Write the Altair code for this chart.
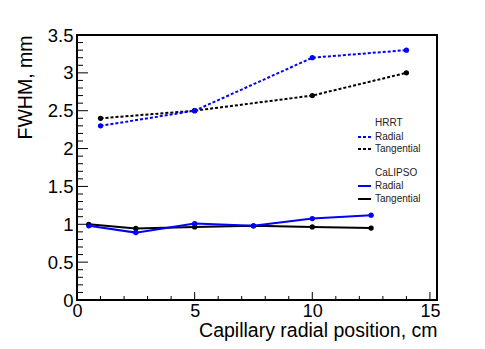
import altair as alt
import pandas as pd

# Data
hrrt_x = [1, 5, 10, 14]
hrrt_radial = [2.30, 2.50, 3.20, 3.30]
hrrt_tangential = [2.40, 2.50, 2.70, 3.00]

cal_x = [0.5, 2.5, 5, 7.5, 10, 12.5]
cal_radial = [0.98, 0.89, 1.01, 0.98, 1.075, 1.12]
cal_tangential = [1.00, 0.945, 0.965, 0.98, 0.965, 0.95]

y_major = [0, 0.5, 1, 1.5, 2, 2.5, 3, 3.5]
x_major = [0, 5, 10, 15]

rows = []
for xs, ys, name in [
    (hrrt_x, hrrt_tangential, "HRRT Tangential"),
    (hrrt_x, hrrt_radial, "HRRT Radial"),
    (cal_x, cal_tangential, "CaLIPSO Tangential"),
    (cal_x, cal_radial, "CaLIPSO Radial"),
]:
    for xv, yv in zip(xs, ys):
        rows.append({"series": name, "x": xv, "y": yv})
df = pd.DataFrame(rows)

W, H = 360, 265
xscale = alt.Scale(domain=[0, 15.3], nice=False, zero=False)
yscale = alt.Scale(domain=[0, 3.5], nice=False)
FONT = "Liberation Sans"

xaxis = alt.Axis(values=x_major, format="~g", ticks=False, domain=False, grid=False,
                 labelFlush=False, labelOverlap=False,
                 labelFontSize=18, labelFont=FONT, labelColor="black", labelPadding=2,
                 title="Capillary radial position, cm", titleFont=FONT,
                 titleFontSize=19.5, titleFontWeight="normal", titleAnchor="end",
                 titlePadding=1, titleColor="black")
yaxis = alt.Axis(values=y_major, format="~g", ticks=False, domain=False, grid=False,
                 labelFlush=False, labelOverlap=False,
                 labelFontSize=18.5, labelFont=FONT, labelColor="black", labelPadding=4,
                 title="FWHM, mm", titleFont=FONT, titleFontSize=19.5,
                 titleFontWeight="normal", titleAnchor="end", titlePadding=12,
                 titleColor="black")

base = alt.Chart(df)


def series_layer(name, color, dash):
    enc_x = alt.X("x:Q", scale=xscale, axis=xaxis)
    enc_y = alt.Y("y:Q", scale=yscale, axis=yaxis)
    line_kwargs = dict(color=color, strokeWidth=2)
    if dash:
        line_kwargs["strokeDash"] = [3, 2]
    sub = base.transform_filter(alt.datum.series == name)
    line = sub.mark_line(**line_kwargs).encode(x=enc_x, y=enc_y)
    pts = sub.mark_circle(color=color, size=28, opacity=1).encode(x=enc_x, y=enc_y)
    return line + pts


# Inside tick marks (axis decoration)
y_ticks = pd.DataFrame({"v": [round(i * 0.1, 2) for i in range(36)],
                        "major": [i % 5 == 0 for i in range(36)]})
x_ticks = pd.DataFrame({"v": list(range(16)), "major": [i % 5 == 0 for i in range(16)]})


def tick_rules(data, axis, major, length):
    ch = alt.Chart(data).transform_filter(alt.datum.major == major).mark_rule(color="black", strokeWidth=1)
    if axis == "y":
        return ch.encode(y=alt.Y("v:Q", scale=yscale, axis=yaxis), x=alt.value(0), x2=alt.value(length))
    return ch.encode(x=alt.X("v:Q", scale=xscale, axis=xaxis), y=alt.value(H), y2=alt.value(H - length))


# Frame
frame = alt.Chart(pd.DataFrame({"f": [0]})).mark_rect(
    fill=None, stroke="black", strokeWidth=2).encode(
    x=alt.value(0), x2=alt.value(W), y=alt.value(0), y2=alt.value(H))

# Legend (manual, ROOT style)
leg_headers = pd.DataFrame({"label": ["HRRT", "CaLIPSO"], "py": [88, 138]})
leg_items = pd.DataFrame({
    "label": ["Radial", "Tangential", "Radial", "Tangential"],
    "py": [102, 114, 151, 164],
    "color": ["#0000ff", "#000000", "#0000ff", "#000000"],
    "dash": ["dot", "dot", "solid", "solid"],
})

leg_head_txt = alt.Chart(leg_headers).mark_text(align="left", baseline="middle", fontSize=10,
                                                font=FONT, color="#222").encode(
    x=alt.value(298), y=alt.Y("py:Q", scale=None), text="label:N")
leg_item_txt = alt.Chart(leg_items).mark_text(align="left", baseline="middle", fontSize=10,
                                              font=FONT, color="#222").encode(
    x=alt.value(298), y=alt.Y("py:Q", scale=None), text="label:N")
leg_dot = alt.Chart(leg_items).transform_filter(alt.datum.dash == "dot").mark_rule(
    strokeWidth=2, strokeDash=[3, 2]).encode(
    x=alt.value(281), x2=alt.value(294), y=alt.Y("py:Q", scale=None),
    color=alt.Color("color:N", scale=None))
leg_solid = alt.Chart(leg_items).transform_filter(alt.datum.dash == "solid").mark_rule(
    strokeWidth=2).encode(
    x=alt.value(281), x2=alt.value(294), y=alt.Y("py:Q", scale=None),
    color=alt.Color("color:N", scale=None))

chart = alt.layer(
    series_layer("HRRT Tangential", "#000000", True),
    series_layer("HRRT Radial", "#0000ff", True),
    series_layer("CaLIPSO Tangential", "#000000", False),
    series_layer("CaLIPSO Radial", "#0000ff", False),
    tick_rules(y_ticks, "y", True, 11), tick_rules(y_ticks, "y", False, 6),
    tick_rules(x_ticks, "x", True, 8), tick_rules(x_ticks, "x", False, 4),
    frame,
    leg_head_txt, leg_item_txt, leg_dot, leg_solid,
).properties(
    width=W, height=H,
    autosize=alt.AutoSizeParams(type="none"),
    padding={"left": 69, "top": 27, "right": 32, "bottom": 41},
).configure(background="white").configure_view(stroke=None)

chart.save("out.html", embed_options={"renderer": "svg", "actions": False})
